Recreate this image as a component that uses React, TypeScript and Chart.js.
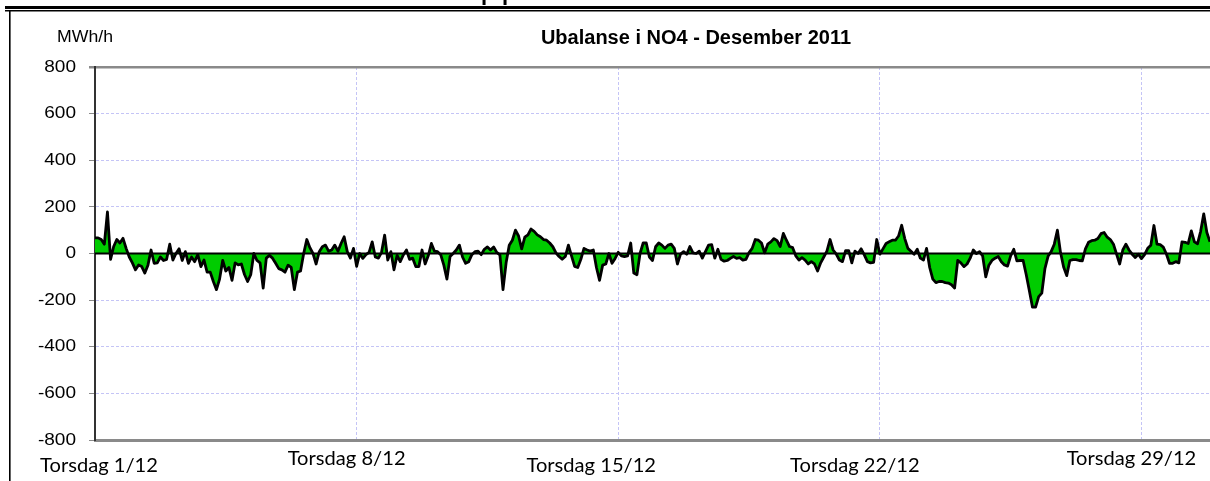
import React, { useEffect, useRef } from "react";
import { Chart, registerables } from "chart.js";

Chart.register(...registerables);

// ---------- data ----------
const TITLE = "Ubalanse i NO4 - Desember 2011";
const Y_UNIT = "MWh/h";
const HOURS_PER_POINT = 2;
// imbalance in MWh/h, one reading every 2 hours from Thursday 1/12 00:00
const imbalance = [
  67, 67, 60, 40, 178, -25, 30, 60, 45, 65, 22, -15, -40, -70, -49, -56, -84, -50, 15, -42,
  -40, -15, -30, -25, 40, -28, 0, 20, -30, 8, -42, -15, -35, -5, -56, -28, -80, -80, -120, -155,
  -110, -30, -75, -60, -115, -40, -49, -45, -90, -120, -91, 0, -30, -40, -148, -20, -8, -20, -42, -65,
  -70, -80, -50, -60, -155, -80, -75, 0, 60, 25, 0, -45, 8, 29, 36, 10, 15, 36, 10, 43,
  72, 8, -20, 22, -55, 0, -21, -5, 5, 50, -15, -20, 5, 79, -28, 8, -70, -8, -35, -6,
  15, -25, -20, -56, -56, 15, -45, -10, 43, 10, 8, -5, -50, -110, -13, 0, 15, 36, -15, -42,
  -35, -5, 8, 10, -5, 18, 28, 15, 28, 5, -6, -155, -40, 35, 57, 100, 75, 20, 70, 80,
  105, 95, 80, 72, 60, 57, 45, 29, 3, -13, -25, -13, 36, -10, -55, -60, -25, 22, 15, 10,
  15, -60, -115, -50, -45, 0, -42, -21, 5, -10, -13, -10, 45, -84, -91, 0, 45, 45, -15, -30,
  29, 45, 36, 22, 36, 40, 22, -45, -3, 8, -3, 30, 3, 0, 10, -20, 8, 36, 38, -20,
  18, -25, -33, -30, -21, -13, -21, -18, -28, -25, 4, 22, 60, 57, 45, 3, 40, 50, 64, 55,
  30, 86, 57, 30, 25, -10, -28, -18, -28, -45, -35, -45, -75, -40, -15, 10, 60, 15, -3, -28,
  -35, 12, 12, -40, 10, 0, 20, -6, -35, -40, -38, 60, -3, 20, 43, 50, 57, 57, 75, 121,
  64, 22, 10, -3, 18, -20, -28, 22, -60, -110, -125, -120, -120, -125, -127, -134, -148, -30, -40, -56,
  -45, -20, 15, 0, 8, -10, -100, -50, -30, -20, -13, -35, -49, -54, -10, 18, -32, -30, -30, -91,
  -160, -230, -230, -185, -170, -65, -12, 8, 40, 100, 5, -58, -95, -30, -26, -26, -30, -32, 20, 48,
  55, 57, 64, 85, 90, 70, 60, 40, -3, -45, 15, 40, 15, -3, -17, -3, -22, -5, 22, 35,
  120, 40, 38, 27, -2, -42, -42, -35, -40, 50, 48, 43, 97, 50, 42, 95, 170, 90, 50,
];
const X_LABELS = ["Torsdag 1/12", "Torsdag 8/12", "Torsdag 15/12", "Torsdag 22/12", "Torsdag 29/12"];
const X_LABEL_HOURS = [0, 168, 336, 504, 672];
const Y_TICKS = [-800, -600, -400, -200, 0, 200, 400, 600, 800];

// ---------- layout / style ----------
const W = 1210;
const H = 481;
const X_LABEL_DX = [4, -10, -27, -25, -10];
const X_LABEL_Y = [466, 459, 466, 466, 459];
const GRID_COLOR = "#c4c4f6";

function stretchedText(ctx, text, x, y, font, align, sx) {
  ctx.save();
  ctx.font = font;
  ctx.textAlign = align;
  ctx.textBaseline = "middle";
  ctx.fillStyle = "#000";
  ctx.translate(x, y);
  ctx.scale(sx, 1);
  ctx.fillText(text, 0, 0);
  ctx.restore();
}

const decorPlugin = {
  id: "decor",
  afterDatasetsDraw(chart) {
    const { ctx, chartArea, scales } = chart;
    const y0 = scales.y.getPixelForValue(0);
    ctx.save();
    ctx.strokeStyle = "#000";
    ctx.lineWidth = 2;
    ctx.beginPath();
    ctx.moveTo(chartArea.left, y0);
    ctx.lineTo(chartArea.right, y0);
    ctx.stroke();
    ctx.restore();
  },
  afterDraw(chart) {
    const { ctx, scales } = chart;
    // y tick labels
    Y_TICKS.forEach((v) => {
      stretchedText(ctx, String(v), 76, scales.y.getPixelForValue(v), "17px 'Liberation Sans', Arial", "right", 1.12);
    });
    // x labels
    X_LABELS.forEach((t, i) => {
      const x = scales.x.getPixelForValue(X_LABEL_HOURS[i]) + X_LABEL_DX[i];
      stretchedText(ctx, t, x, X_LABEL_Y[i], "19px Lato, 'Open Sans', sans-serif", "center", 1.06);
    });
    // unit + title
    stretchedText(ctx, Y_UNIT, 57, 37, "17px 'Liberation Sans', Arial", "left", 1.04);
    stretchedText(ctx, TITLE, 696, 38, "bold 20px 'Liberation Sans', Arial", "center", 1.0);
    // frame lines
    ctx.save();
    ctx.fillStyle = "#000";
    ctx.fillRect(5, 6, W - 5, 3);
    ctx.fillRect(5, 10, W - 5, 1.5);
    ctx.fillRect(9, 10, 1.6, H - 10);
    // fragment of heading above (cut off)
    ctx.font = "bold 22px 'Liberation Sans', Arial";
    ctx.textBaseline = "alphabetic";
    ctx.textAlign = "left";
    ctx.fillText("p", 481, 0);
    ctx.fillText("p", 502, 0);
    ctx.restore();
  },
};

export default function App() {
  const ref = useRef(null);
  useEffect(() => {
    const canvas = ref.current;
    const points = imbalance.map((v, i) => ({ x: i * HOURS_PER_POINT, y: v }));
    const chart = new Chart(canvas, {
      type: "line",
      data: {
        datasets: [
          {
            data: points,
            borderColor: "#000",
            borderWidth: 2.8,
            borderJoinStyle: "round",
            backgroundColor: "#00cc00",
            fill: "origin",
            pointRadius: 0,
            tension: 0,
          },
        ],
      },
      options: {
        animation: false,
        responsive: false,
        maintainAspectRatio: false,
        events: [],
        layout: { padding: { left: 89, top: 67, right: 0, bottom: 41 } },
        plugins: { legend: { display: false }, title: { display: false }, tooltip: { enabled: false } },
        scales: {
          x: {
            type: "linear",
            min: 0,
            max: 716,
            ticks: { display: false, stepSize: 168, includeBounds: false },
            grid: { color: GRID_COLOR, lineWidth: 1, drawTicks: false },
            border: { display: true, color: "#8a8a8a", width: 3, dash: [3, 2] },
            afterFit: (s) => {
              s.height = 0;
            },
          },
          y: {
            min: -800,
            max: 800,
            ticks: { display: false, stepSize: 200 },
            grid: {
              color: (c) => (c.tick && c.tick.value === 800 ? "#8a8a8a" : GRID_COLOR),
              lineWidth: (c) => (c.tick && c.tick.value === 800 ? 2.5 : 1),
              tickColor: "#8a8a8a",
              tickLength: 6,
              drawTicks: true,
            },
            border: {
              display: true,
              color: "#333",
              width: 2,
              dash: (c) => (c.tick && c.tick.value === 800 ? [] : [3, 2]),
            },
            afterFit: (s) => {
              s.width = 6;
            },
          },
        },
      },
      plugins: [decorPlugin],
    });
    return () => chart.destroy();
  }, []);
  return (
    <div style={{ position: "fixed", left: 0, top: 0, width: W, height: H, overflow: "hidden", background: "#fff" }}>
      <canvas ref={ref} width={W} height={H} style={{ width: W, height: H, display: "block" }} />
    </div>
  );
}
